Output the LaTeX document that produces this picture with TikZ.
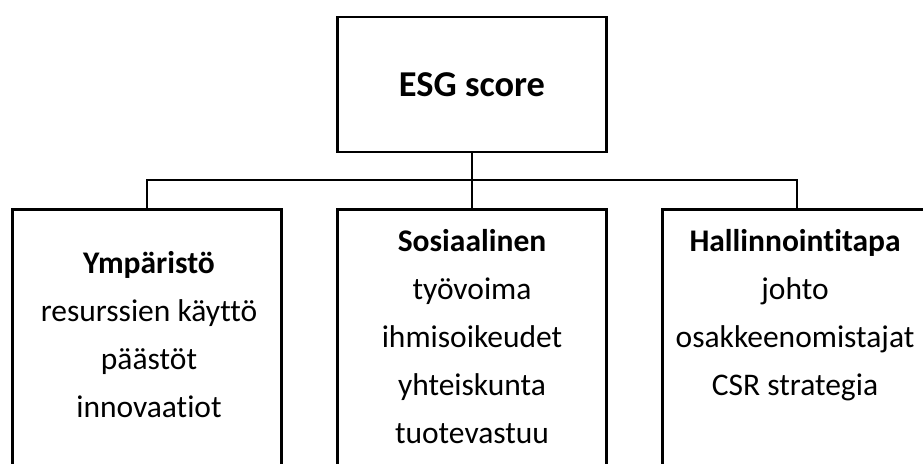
\documentclass[tikz,border=0pt]{standalone}
\usepackage{fontspec}
\setmainfont{Carlito}[Ligatures={NoCommon}]
\usetikzlibrary{positioning}

\begin{document}
\begin{tikzpicture}[x=1pt, y=-1pt, line width=2.6pt,
    box/.style={draw, rectangle, inner sep=0pt, minimum width=269pt},
    pillar/.style={box, anchor=north, minimum height=300pt},
    boxtext/.style={anchor=base, align=center, inner sep=0pt,
      font=\fontsize{31.5}{48}\selectfont}]
  \useasboundingbox (0,0) rectangle (923,463);
  \clip (0,0) rectangle (923,463);

  % Top box
  \node[box, minimum height=135pt, font=\fontsize{36.4}{44}\selectfont\bfseries]
    (esg) at (472,84.5) {ESG score};

  % Three pillars (cut off at the bottom)
  \node[pillar] (env) at (147,208) {};
  \node[pillar] (soc) at (472,208) {};
  \node[pillar] (gov) at (797,208) {};

  % base = baseline of the last line
  \node[boxtext] (envtxt) at (149,417)
    {\textbf{Ympäristö}\\resurssien käyttö\\päästöt\\innovaatiot};
  \node[boxtext] (soctxt) at (472,443)
    {\textbf{Sosiaalinen}\\työvoima\\ihmisoikeudet\\yhteiskunta\\tuotevastuu};
  \node[boxtext] (govtxt) at (795,395)
    {\textbf{Hallinnointitapa}\\johto\\osakkeenomistajat\\CSR strategia};

  % Connectors
  \coordinate (fork) at (472,180);
  \draw (esg.south) -- (fork);
  \draw (fork) -| (env.north);
  \draw (fork) -| (gov.north);
  \draw (fork) -- (soc.north);
\end{tikzpicture}
\end{document}
